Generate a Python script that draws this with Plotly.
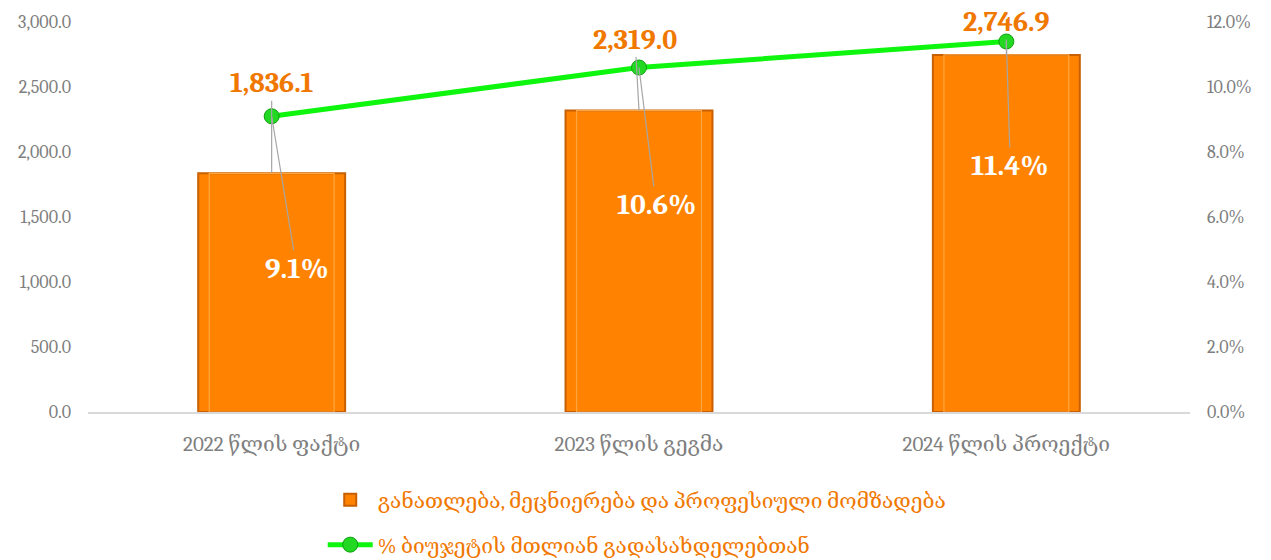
import plotly.graph_objects as go

categories = ["2022 წლის ფაქტი", "2023 წლის გეგმა", "2024 წლის პროექტი"]
spending = [1836.1, 2319.0, 2746.9]
share_pct = [9.1, 10.6, 11.4]
bar_name = "განათლება, მეცნიერება და პროფესიული მომზადება"
line_name = "% ბიუჯეტის მთლიან გადასახდელებთან"
y_ticks = [0, 500, 1000, 1500, 2000, 2500, 3000]
y2_ticks = [0, 2, 4, 6, 8, 10, 12]

# label offsets in pixels (bar-value label, percent label)
bar_lbl_off = [(0, -90), (-4, -71), (0, -33)]
pct_lbl_off = [(25, 152), (17, 137), (4, 124)]

ORANGE = "#FF8300"
LABEL_ORANGE = "#F07800"
GREEN = "#0EF50E"
SERIF = "Cambria, 'DejaVu Serif', serif"

fig = go.Figure()
fig.add_trace(go.Bar(
    x=categories, y=spending, name=bar_name, width=0.4, legend="legend",
    marker=dict(color=ORANGE, line=dict(color="#C85F00", width=2)),
    yaxis="y",
))
# inner bevel highlight
fig.add_trace(go.Bar(
    x=categories, y=spending, width=0.34, showlegend=False, hoverinfo="skip",
    marker=dict(color="rgba(0,0,0,0)", line=dict(color="#FFA640", width=1.2)),
    yaxis="y",
))
fig.add_trace(go.Scatter(
    x=categories, y=share_pct, name=line_name, mode="lines+markers", legend="legend2",
    line=dict(color=GREEN, width=5),
    marker=dict(color="#22D822", size=15, line=dict(color="#0E9E0E", width=1)),
    yaxis="y2",
))

annotations = []
for i, c in enumerate(categories):
    ax, ay = bar_lbl_off[i]
    annotations.append(dict(
        x=c, y=spending[i], xref="x", yref="y",
        text=f"{spending[i]:,.1f}", showarrow=True, arrowhead=0, arrowwidth=1.2,
        arrowcolor="#A6A6A6", ax=ax, ay=ay,
        font=dict(family=SERIF, size=28, color=LABEL_ORANGE, weight="bold"),
    ))
    ax, ay = pct_lbl_off[i]
    annotations.append(dict(
        x=c, y=share_pct[i], xref="x", yref="y2",
        text=f"{share_pct[i]:.1f}%", showarrow=True, arrowhead=0, arrowwidth=1.2,
        arrowcolor="#A6A6A6", ax=ax, ay=ay,
        font=dict(family=SERIF, size=29, color="white", weight="bold"),
    ))

fig.update_layout(
    width=1271, height=560,
    margin=dict(l=88, r=81, t=22, b=148, autoexpand=False),
    paper_bgcolor="white", plot_bgcolor="white",
    barmode="overlay",
    font=dict(family=SERIF, color="#7F7F7F"),
    xaxis=dict(showgrid=False, showline=True, linecolor="#D9D9D9", linewidth=2,
               tickfont=dict(size=21, color="#7F7F7F"), ticks="",
               automargin=False, ticklabelstandoff=12),
    yaxis=dict(range=[0, 3000], tickvals=y_ticks,
               ticktext=[f"{v:,.1f}" for v in y_ticks],
               showgrid=False, zeroline=False, showline=False, automargin=False,
               ticklabelstandoff=16,
               tickfont=dict(size=18, color="#7F7F7F")),
    yaxis2=dict(range=[0, 12], tickvals=y2_ticks,
                ticktext=[f"{v:.1f}%" for v in y2_ticks],
                overlaying="y", side="right", showgrid=False, zeroline=False,
                automargin=False, ticklabelstandoff=16,
                tickfont=dict(size=18, color="#7F7F7F")),
    legend=dict(orientation="h", x=0.213, xanchor="left", y=-0.2256, yanchor="middle",
                font=dict(size=21, color=LABEL_ORANGE), itemwidth=45),
    legend2=dict(orientation="h", x=0.213, xanchor="left", y=-0.341, yanchor="middle",
                 font=dict(size=21, color=LABEL_ORANGE), itemwidth=45),
    annotations=annotations,
    showlegend=True,
)

fig.write_html("out.html", post_script="document.body.style.margin='0';",
               config={"displayModeBar": False})
